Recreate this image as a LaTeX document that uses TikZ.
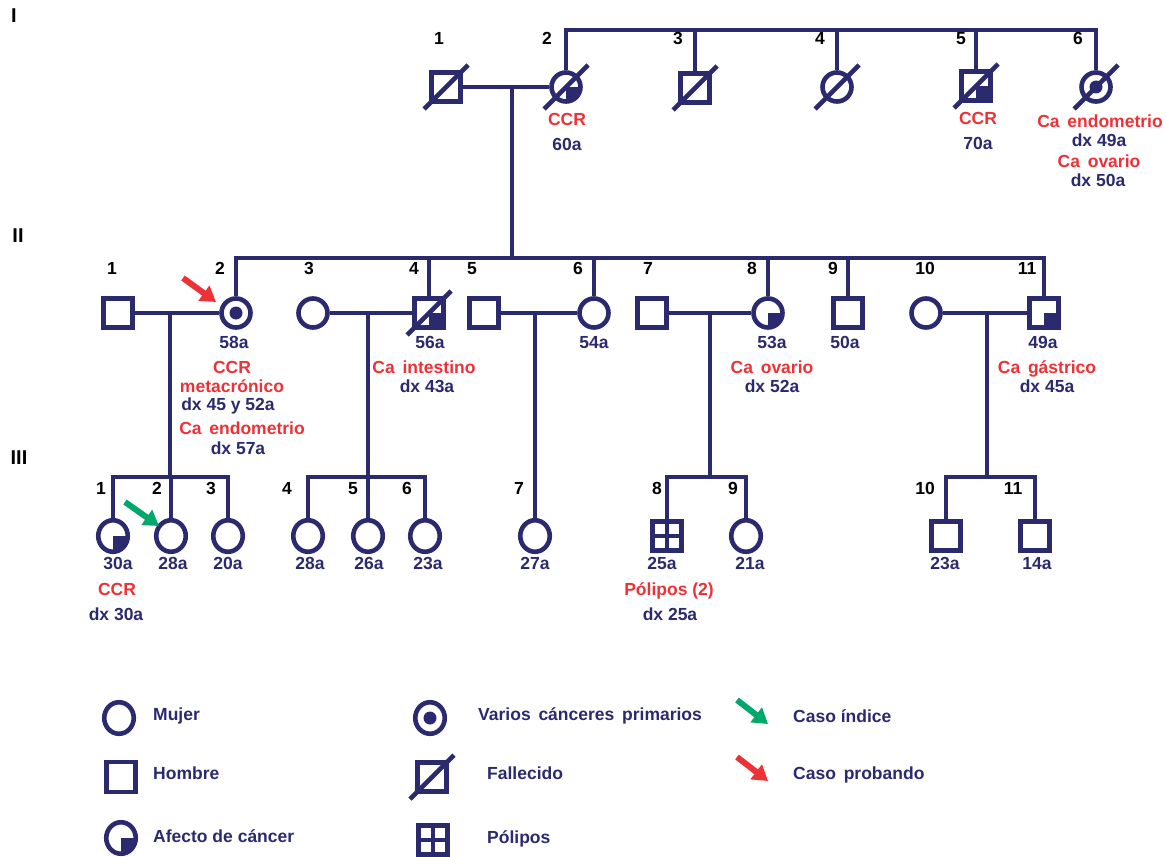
\documentclass[tikz,border=0pt]{standalone}
\usepackage{fontspec}
\setmainfont{Liberation Sans}
\usetikzlibrary{arrows.meta,shapes.geometric}
\definecolor{navy}{RGB}{44,42,110}
\definecolor{cred}{RGB}{237,50,55}
\definecolor{cgreen}{RGB}{0,168,107}
\newcommand\pdead[1]{\draw[navy,line width=4.6pt] ([shift={(-22,22)}]#1.center) -- ([shift={(22,-22)}]#1.center);}
\newcommand\pquarterf[1]{\begin{scope}\clip (#1.center) circle (14.5pt); \fill[navy] (#1.center) rectangle ++(17,17);\end{scope}}
\newcommand\pquartere[1]{\begin{scope}\clip (#1.center) ellipse [x radius=14.7pt,y radius=15.7pt]; \fill[navy] (#1.center) rectangle ++(17,18);\end{scope}}
\newcommand\pquarters[1]{\fill[navy] (#1.center) rectangle (#1.south east);}
\newcommand\pdot[1]{\fill[navy] (#1.center) circle (6.5pt);}
\newcommand\ppoly[1]{\draw[navy,line width=4.6pt] (#1.north) -- (#1.south) (#1.west) -- (#1.east);}
\begin{document}
\begin{tikzpicture}[x=1pt,y=-1pt,
  ln/.style={draw=navy,line width=4.6pt},
  fem/.style={circle,draw=navy,line width=4.6pt,fill=white,minimum size=29pt,inner sep=0pt},
  feme/.style={ellipse,draw=navy,line width=4.6pt,fill=white,minimum width=29.5pt,minimum height=31.5pt,inner sep=0pt},
  mal/.style={rectangle,draw=navy,line width=4.6pt,fill=white,minimum size=28.5pt,inner sep=0pt},
  num/.style={font=\bfseries\fontsize{17.5}{20}\selectfont,text=black,inner sep=0pt,anchor=mid},
  age/.style={font=\bfseries\fontsize{17.5}{20}\selectfont,text=navy,inner sep=0pt,anchor=mid},
  lab/.style={font=\bfseries\fontsize{17.5}{20}\selectfont,text=cred,inner sep=0pt,anchor=mid},
  leg/.style={font=\bfseries\fontsize{17.5}{20}\selectfont,text=navy,inner sep=0pt,anchor=mid west},
  gen/.style={font=\bfseries\fontsize{20}{22}\selectfont,text=black,inner sep=0pt,anchor=mid},
  arr/.style={line width=6pt,-{Triangle[length=15pt,width=18pt]}},
]
\useasboundingbox[fill=white] (0,0) rectangle (1166,856);

% ---------- generation labels
\node[gen] (gI) at (14,20) {I};
\node[gen] (gII) at (18,240) {II};
\node[gen] (gIII) at (19,462) {III};

% ---------- bars / coordinates
\coordinate (barI) at (0,30);
\coordinate (barII) at (0,258);
\coordinate (barIII) at (0,477);

% ---------- generation I
\node[mal] (I1) at (446,87) {};
\node[fem] (I2) at (566,87) {};
\node[mal] (I3) at (695,88) {};
\node[fem] (I4) at (837,87) {};
\node[mal] (I5) at (976,86) {};
\node[fem] (I6) at (1096,87) {};

\draw[ln] (I2.north) |- (barI -| I6.north) -- (I6.north);
\foreach \p in {I3,I4,I5} {\draw[ln] (\p.north) -- (\p.north |- barI);}
\draw[ln] (I1.east) -- (I2.west);
\coordinate (mI) at (512,87);
\draw[ln] (mI) -- (mI |- barII);

\pquarterf{I2}
\pquarters{I5}
\pdot{I6}
\foreach \p in {I1,I2,I3,I4,I5,I6} {\pdead{\p}}

\node[num] (nI1) at (439,42) {1};
\node[num] (nI2) at (547,42) {2};
\node[num] (nI3) at (678,42) {3};
\node[num] (nI4) at (820,42) {4};
\node[num] (nI5) at (961,42) {5};
\node[num] (nI6) at (1078,42) {6};

\node[lab] (lI2a) at (567,123) {CCR};
\node[age] (lI2b) at (567,148) {60a};
\node[lab] (lI5a) at (978,122) {CCR};
\node[age] (lI5b) at (978,147) {70a};
\node[lab] (lI6a) at (1100,125) {Ca\, endometrio};
\node[age] (lI6b) at (1099,144) {dx 49a};
\node[lab] (lI6c) at (1099,165) {Ca\, ovario};
\node[age] (lI6d) at (1098,184) {dx 50a};

% ---------- generation II
\node[mal] (II1) at (118,313) {};
\node[fem] (II2) at (236,313) {};
\node[fem] (II3) at (313,313) {};
\node[mal] (II4) at (429,313) {};
\node[mal] (II5) at (484,313) {};
\node[fem] (II6) at (594,313) {};
\node[mal] (II7) at (652,313) {};
\node[fem] (II8) at (768,313) {};
\node[mal] (II9) at (848,313) {};
\node[fem] (II10) at (926,313) {};
\node[mal] (II11) at (1044,313) {};

\draw[ln] (II2.north) |- (barII -| II11.north) -- (II11.north);
\foreach \p in {II4,II6,II8,II9} {\draw[ln] (\p.north) -- (\p.north |- barII);}
\draw[ln] (II1.east) -- (II2.west);
\draw[ln] (II3.east) -- (II4.west);
\draw[ln] (II5.east) -- (II6.west);
\draw[ln] (II7.east) -- (II8.west);
\draw[ln] (II10.east) -- (II11.west);

\pdot{II2}
\pquarters{II4}
\pdead{II4}
\pquarterf{II8}
\pquarters{II11}

\node[num] (nII1) at (112,272) {1};
\node[num] (nII2) at (220,272) {2};
\node[num] (nII3) at (309,272) {3};
\node[num] (nII4) at (414,272) {4};
\node[num] (nII5) at (472,272) {5};
\node[num] (nII6) at (578,272) {6};
\node[num] (nII7) at (648,272) {7};
\node[num] (nII8) at (752,272) {8};
\node[num] (nII9) at (833,272) {9};
\node[num] (nII10) at (925,272) {10};
\node[num] (nII11) at (1027,272) {11};

\node[age] (aII2) at (234,346) {58a};
\node[age] (aII4) at (430,346) {56a};
\node[age] (aII6) at (594,346) {54a};
\node[age] (aII8) at (772,346) {53a};
\node[age] (aII9) at (845,346) {50a};
\node[age] (aII11) at (1043,346) {49a};

\node[lab] (lII2a) at (232,371) {CCR};
\node[lab] (lII2b) at (232,390) {metacrónico};
\node[age] (lII2c) at (228,408) {dx 45 y 52a};
\node[lab] (lII2d) at (242,432) {Ca\, endometrio};
\node[age] (lII2e) at (238,452) {dx 57a};
\node[lab] (lII4a) at (424,371) {Ca\, intestino};
\node[age] (lII4b) at (427,390) {dx 43a};
\node[lab] (lII8a) at (772,371) {Ca\, ovario};
\node[age] (lII8b) at (772,390) {dx 52a};
\node[lab] (lII11a) at (1047,371) {Ca\, gástrico};
\node[age] (lII11b) at (1047,390) {dx 45a};

% ---------- generation III
\node[feme] (III1) at (113,536) {};
\node[feme] (III2) at (171,536) {};
\node[feme] (III3) at (228,536) {};
\node[feme] (III4) at (308,536) {};
\node[feme] (III5) at (368,536) {};
\node[feme] (III6) at (425,536) {};
\node[feme] (III7) at (535,536) {};
\node[mal] (III8) at (667,536) {};
\node[feme] (III9) at (746,536) {};
\node[mal] (III10) at (946,536) {};
\node[mal] (III11) at (1035,536) {};

\coordinate (m12) at (170,313);
\coordinate (m34) at (368,313);
\coordinate (m56) at (535,313);
\coordinate (m78) at (710,313);
\coordinate (m1011) at (987,313);
\draw[ln] (m12) -- (m12 |- barIII);
\draw[ln] (m34) -- (m34 |- barIII);
\draw[ln] (m56) -- (III7.north);
\draw[ln] (m78) -- (m78 |- barIII);
\draw[ln] (m1011) -- (m1011 |- barIII);

\draw[ln] (III1.north) |- (barIII -| III3.north) -- (III3.north);
\draw[ln] (III2.north) -- (III2.north |- barIII);
\draw[ln] (III4.north) |- (barIII -| III6.north) -- (III6.north);
\draw[ln] (III5.north) -- (III5.north |- barIII);
\draw[ln] (III8.north) |- (barIII -| III9.north) -- (III9.north);
\draw[ln] (III10.north) |- (barIII -| III11.north) -- (III11.north);

\pquartere{III1}
\ppoly{III8}

\node[num] (nIII1) at (101,492) {1};
\node[num] (nIII2) at (157,492) {2};
\node[num] (nIII3) at (211,492) {3};
\node[num] (nIII4) at (287,492) {4};
\node[num] (nIII5) at (353,492) {5};
\node[num] (nIII6) at (407,492) {6};
\node[num] (nIII7) at (519,492) {7};
\node[num] (nIII8) at (657,492) {8};
\node[num] (nIII9) at (733,492) {9};
\node[num] (nIII10) at (925,492) {10};
\node[num] (nIII11) at (1013,492) {11};

\node[age] (aIII1) at (118,567) {30a};
\node[age] (aIII2) at (173,567) {28a};
\node[age] (aIII3) at (228,567) {20a};
\node[age] (aIII4) at (310,567) {28a};
\node[age] (aIII5) at (369,567) {26a};
\node[age] (aIII6) at (428,567) {23a};
\node[age] (aIII7) at (535,567) {27a};
\node[age] (aIII8) at (662,567) {25a};
\node[age] (aIII9) at (750,567) {21a};
\node[age] (aIII10) at (945,567) {23a};
\node[age] (aIII11) at (1037,567) {14a};

\node[lab] (lIII1a) at (117,593) {CCR};
\node[age] (lIII1b) at (116,618) {dx 30a};
\node[lab] (lIII8a) at (669,593) {Pólipos (2)};
\node[age] (lIII8b) at (670,618) {dx 25a};

% ---------- proband / index arrows
\coordinate (pa) at (183,278);
\coordinate (pb) at (216,302);
\draw[arr,cred] (pa) -- (pb);
\coordinate (ia) at (125,502);
\coordinate (ib) at (159,526);
\draw[arr,cgreen] (ia) -- (ib);

% ---------- legend
\node[feme] (Lf) at (119,718) {};
\node[leg] (tLf) at (153,718) {Mujer};
\node[mal,minimum height=30pt] (Lm) at (121,777) {};
\node[leg] (tLm) at (153,777) {Hombre};
\node[feme] (La) at (121,838) {};
\pquartere{La}
\node[leg] (tLa) at (153,840) {Afecto de cáncer};

\node[feme] (Lv) at (430,718) {};
\pdot{Lv}
\node[leg] (tLv) at (478,718) {Varios\, cánceres\, primarios};
\node[mal] (Ld) at (432,777) {};
\pdead{Ld}
\node[leg] (tLd) at (487,777) {Fallecido};
\node[mal] (Lp) at (433,840) {};
\ppoly{Lp}
\node[leg] (tLp) at (487,841) {Pólipos};

\coordinate (ga) at (737,700);
\coordinate (gb) at (768,724);
\draw[arr,cgreen] (ga) -- (gb);
\node[leg] (tLg) at (793,720) {Caso índice};
\coordinate (ra) at (737,757);
\coordinate (rb) at (768,781);
\draw[arr,cred] (ra) -- (rb);
\node[leg] (tLr) at (793,777) {Caso\, probando};
\end{tikzpicture}
\end{document}
